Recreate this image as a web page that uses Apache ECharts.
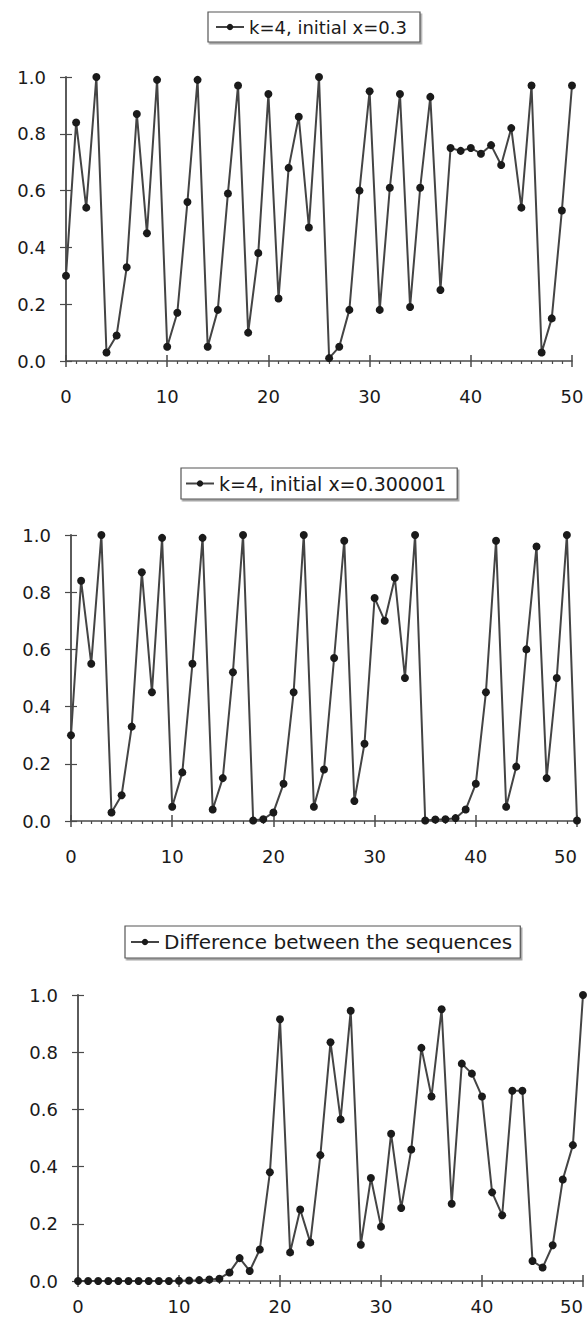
<!DOCTYPE html>
<html>
<head>
<meta charset="utf-8">
<script src="https://cdn.jsdelivr.net/npm/echarts@6/dist/echarts.min.js"></script>
<style>
html,body{margin:0;padding:0;background:#ffffff;}
#c{width:587px;height:1320px;}
</style>
</head>
<body>
<div id="c"></div>
<script>
// iteration index (x axis)
const steps = [0,1,2,3,4,5,6,7,8,9,10,11,12,13,14,15,16,17,18,19,20,21,22,23,24,25,26,27,28,29,30,31,32,33,34,35,36,37,38,39,40,41,42,43,44,45,46,47,48,49,50];

// series names
const name1 = 'k=4, initial x=0.3';
const name2 = 'k=4, initial x=0.300001';
const name3 = 'Difference between the sequences';

// values
const seq1 = [0.30,0.84,0.54,1.00,0.03,0.09,0.33,0.87,0.45,0.99,0.05,0.17,0.56,0.99,0.05,0.18,0.59,0.97,0.10,0.38,0.94,0.22,0.68,0.86,0.47,1.00,0.01,0.05,0.18,0.60,0.95,0.18,0.61,0.94,0.19,0.61,0.93,0.25,0.75,0.74,0.75,0.73,0.76,0.69,0.82,0.54,0.97,0.03,0.15,0.53,0.97];
const seq2 = [0.30,0.84,0.55,1.00,0.03,0.09,0.33,0.87,0.45,0.99,0.05,0.17,0.55,0.99,0.04,0.15,0.52,1.00,0.002,0.006,0.03,0.13,0.45,1.00,0.05,0.18,0.57,0.98,0.07,0.27,0.78,0.70,0.85,0.50,1.00,0.002,0.005,0.006,0.01,0.04,0.13,0.45,0.98,0.05,0.19,0.60,0.96,0.15,0.50,1.00,0.002];
const diff = [0,0,0,0,0,0,0,0,0,0,0.001,0.002,0.003,0.005,0.008,0.03,0.08,0.035,0.11,0.38,0.915,0.10,0.25,0.135,0.44,0.835,0.565,0.945,0.127,0.36,0.19,0.515,0.255,0.46,0.815,0.645,0.95,0.27,0.76,0.725,0.645,0.31,0.23,0.665,0.665,0.07,0.047,0.125,0.355,0.475,1.00];

// axis ranges / ticks
const xMin = 0, xMax = 50, xStep = 10;
const yMin = 0, yMax = 1, yStep = 0.2;

const FONT = 'DejaVu Sans';
const AX = '#4a4a4a';
const LINE = '#444444';
const DOT = '#1a1a1a';

const grids = [
  {left: 66, top: 77, width: 506, height: 284, containLabel: false, outerBoundsMode: 'none'},
  {left: 71, top: 535, width: 506, height: 286, containLabel: false, outerBoundsMode: 'none'},
  {left: 78, top: 995, width: 505, height: 286, containLabel: false, outerBoundsMode: 'none'}
];
const xLabelMargin = [26, 26, 16];
const alignLast = [null, 'right', 'right'];

const legends = [
  {name: name1, left: 208, top: 12, fontSize: 18, padding: [6, 13, 6, 7]},
  {name: name2, left: 181, top: 468, fontSize: 19, padding: [6, 11, 6, 4]},
  {name: name3, left: 125, top: 926, fontSize: 20, padding: [6, 8, 6, 5]}
];

const seriesData = [seq1, seq2, diff];
const names = [name1, name2, name3];

const xAxes = [], yAxes = [], series = [];
grids.forEach((g, i) => {
  const lab = {fontFamily: FONT, fontSize: 18, color: '#1a1a1a', margin: xLabelMargin[i]};
  if (alignLast[i]) lab.alignMaxLabel = alignLast[i];
  xAxes.push({
    gridIndex: i, type: 'value', min: xMin, max: xMax, interval: xStep,
    axisLine: {show: true, onZero: false, lineStyle: {color: AX, width: 1.5}},
    axisTick: {show: true, length: 6, lineStyle: {color: AX, width: 1.5}},
    minorTick: {show: true, splitNumber: 10, length: 3, lineStyle: {color: AX, width: 1.2}},
    axisLabel: lab,
    splitLine: {show: false}
  });
  yAxes.push({
    gridIndex: i, type: 'value', min: yMin, max: yMax, interval: yStep,
    axisLine: {show: true, lineStyle: {color: AX, width: 1.8}},
    axisTick: {show: true, length: 6, lineStyle: {color: AX, width: 1.2}},
    axisLabel: {fontFamily: FONT, fontSize: 18, color: '#1a1a1a', margin: 20,
      formatter: v => v.toFixed(1)},
    splitLine: {show: false}
  });
});
// secondary axes: inside ticks so ticks cross the axis lines
grids.forEach((g, i) => {
  xAxes.push({
    gridIndex: i, type: 'value', min: xMin, max: xMax, interval: xStep, position: 'bottom',
    axisLine: {show: false},
    axisTick: {show: true, inside: true, length: 6, lineStyle: {color: AX, width: 1.5}},
    axisLabel: {show: false}, splitLine: {show: false}
  });
  yAxes.push({
    gridIndex: i, type: 'value', min: yMin, max: yMax, interval: yStep, position: 'left',
    axisLine: {show: false},
    axisTick: {show: true, inside: true, length: 6, lineStyle: {color: AX, width: 1.2}},
    axisLabel: {show: false}, splitLine: {show: false}
  });
});

seriesData.forEach((vals, i) => {
  series.push({
    name: names[i], type: 'line', xAxisIndex: i, yAxisIndex: i,
    data: steps.map((s, j) => [s, vals[j]]),
    symbol: 'circle', symbolSize: 8, showAllSymbol: true, clip: false,
    lineStyle: {color: LINE, width: 2},
    itemStyle: {color: DOT},
    emphasis: {disabled: true},
    z: 3
  });
});

const legendOpts = legends.map(l => ({
  data: [l.name], left: l.left, top: l.top, orient: 'horizontal',
  padding: l.padding, itemWidth: 28, itemHeight: 8,
  backgroundColor: '#fff', borderColor: '#555', borderWidth: 1.2, borderRadius: 0,
  shadowColor: 'rgba(0,0,0,0.35)', shadowOffsetX: 1.5, shadowOffsetY: 2, shadowBlur: 1,
  textStyle: {fontFamily: FONT, fontSize: l.fontSize, color: '#1a1a1a'},
  selectedMode: false
}));

const chart = echarts.init(document.getElementById('c'), null, {renderer: 'svg'});
chart.setOption({
  animation: false,
  backgroundColor: '#ffffff',
  color: [LINE, LINE, LINE],
  grid: grids,
  xAxis: xAxes,
  yAxis: yAxes,
  legend: legendOpts,
  series: series
});
</script>
</body>
</html>
